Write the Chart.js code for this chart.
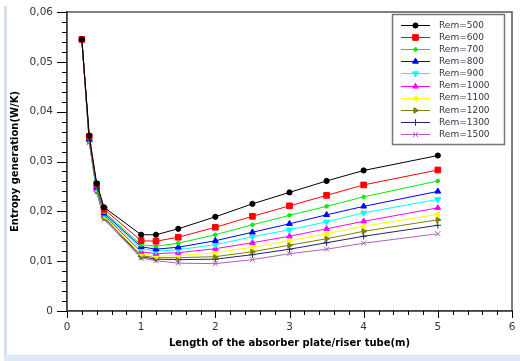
<!DOCTYPE html>
<html>
<head>
<meta charset="utf-8">
<script src="https://cdn.jsdelivr.net/npm/chart.js"></script>
<style>
  html, body { margin: 0; padding: 0; background: #fff; }
  #wrap { position: relative; width: 520px; height: 361px; }
  #edgeL { position: absolute; left: 4px; top: 6px; width: 3px; height: 355px; background: #d3e0f1; }
  #edgeB { position: absolute; left: 4px; top: 355px; width: 516px; height: 6px; background: #dfe8f5; }
  canvas { position: absolute; left: 0; top: 0; }
</style>
</head>
<body>
<div id="wrap">
  <div id="edgeL"></div>
  <div id="edgeB"></div>
  <canvas id="chart" width="520" height="361"></canvas>
</div>
<script>
// longueur (m)
const lengths = [0.2, 0.3, 0.4, 0.5, 1, 1.2, 1.5, 2, 2.5, 3, 3.5, 4, 5];

// génération d'entropie (W/K) pour chaque Rem
const rem500  = [0.0545, 0.0352, 0.0256, 0.0208, 0.0153, 0.0153, 0.0165, 0.0189, 0.0215, 0.0238, 0.0261, 0.0282, 0.0312];
const rem600  = [0.0545, 0.0350, 0.0254, 0.0204, 0.0141, 0.0140, 0.0148, 0.0168, 0.0190, 0.0211, 0.0232, 0.0253, 0.0283];
const rem700  = [0.0545, 0.0347, 0.0250, 0.0199, 0.0133, 0.0130, 0.0136, 0.0153, 0.0173, 0.0192, 0.0210, 0.0229, 0.0261];
const rem800  = [0.0545, 0.0345, 0.0248, 0.0196, 0.0129, 0.0124, 0.0128, 0.0141, 0.0158, 0.0175, 0.0193, 0.0210, 0.0240];
const rem900  = [0.0545, 0.0344, 0.0246, 0.0194, 0.0125, 0.0120, 0.0123, 0.0133, 0.0149, 0.0163, 0.0179, 0.0197, 0.0224];
const rem1000 = [0.0545, 0.0343, 0.0245, 0.0192, 0.0119, 0.0115, 0.0117, 0.0125, 0.0137, 0.0150, 0.0165, 0.0180, 0.0207];
const rem1100 = [0.0545, 0.0342, 0.0243, 0.0190, 0.0115, 0.0110, 0.0111, 0.0117, 0.0128, 0.0141, 0.0155, 0.0170, 0.0194];
const rem1200 = [0.0545, 0.0341, 0.0242, 0.0188, 0.0111, 0.0107, 0.0107, 0.0109, 0.0119, 0.0132, 0.0145, 0.0160, 0.0183];
const rem1300 = [0.0545, 0.0340, 0.0241, 0.0187, 0.0109, 0.0104, 0.0103, 0.0104, 0.0113, 0.0124, 0.0137, 0.0150, 0.0172];
const rem1500 = [0.0545, 0.0338, 0.0239, 0.0184, 0.0106, 0.0101, 0.0096, 0.0095, 0.0103, 0.0115, 0.0124, 0.0136, 0.0155];

const seriesNames = ['Rem=500', 'Rem=600', 'Rem=700', 'Rem=800', 'Rem=900', 'Rem=1000', 'Rem=1100', 'Rem=1200', 'Rem=1300', 'Rem=1500'];
const seriesValues = [rem500, rem600, rem700, rem800, rem900, rem1000, rem1100, rem1200, rem1300, rem1500];
const seriesColors = ['#000000', '#ff0000', '#00ee00', '#0000ff', '#00ffff', '#ff00ff', '#ffff00', '#808000', '#22227a', '#b060b8'];

const markers = [
  { style: 'circle', radius: 2.6, rotation: 0 },
  { style: 'rect', radius: 4, rotation: 0 },
  { style: 'circle', radius: 1.8, rotation: 0 },
  { style: 'triangle', radius: 3.4, rotation: 0 },
  { style: 'triangle', radius: 3.4, rotation: 180 },
  { style: 'triangle', radius: 3.2, rotation: 0 },
  { style: 'triangle', radius: 3.2, rotation: 270 },
  { style: 'triangle', radius: 3.2, rotation: 90 },
  { style: 'cross', radius: 3.2, rotation: 0 },
  { style: 'crossRot', radius: 3.6, rotation: 0 }
];

const FONT = "'DejaVu Sans', Verdana, sans-serif";
const TICK_COLOR = '#333348';

const datasets = seriesNames.map((name, i) => ({
  label: name,
  data: lengths.map((x, j) => ({ x: x, y: seriesValues[i][j] })),
  borderColor: seriesColors[i],
  backgroundColor: seriesColors[i],
  borderWidth: 1,
  pointStyle: markers[i].style,
  pointRadius: markers[i].radius,
  pointRotation: markers[i].rotation,
  pointBorderWidth: 1,
  tension: 0,
  fill: false
}));

const isWhole = (v, step) => Math.abs(v / step - Math.round(v / step)) < 1e-6;

// cadre du graphe + graduations majeures / mineures
const frameTicks = {
  id: 'frameTicks',
  afterDraw(chart) {
    const { ctx, chartArea: a, scales } = chart;
    ctx.save();
    ctx.strokeStyle = '#555';
    ctx.lineWidth = 1.5;
    ctx.strokeRect(a.left, a.top, a.right - a.left, a.bottom - a.top);
    ctx.strokeStyle = '#000';
    ctx.lineWidth = 1;
    ctx.beginPath();
    scales.y.ticks.forEach(t => {
      const y = Math.round(scales.y.getPixelForValue(t.value)) + 0.5;
      const len = isWhole(t.value, 0.01) ? 10 : 5;
      ctx.moveTo(a.left - len, y);
      ctx.lineTo(a.left, y);
    });
    scales.x.ticks.forEach(t => {
      const x = Math.round(scales.x.getPixelForValue(t.value)) + 0.5;
      const len = isWhole(t.value, 1) ? 7 : 4;
      ctx.moveTo(x, a.bottom);
      ctx.lineTo(x, a.bottom + len);
    });
    ctx.stroke();
    ctx.restore();
  }
};

// légende encadrée avec trait + marqueur
const boxLegend = {
  id: 'boxLegend',
  afterDraw(chart) {
    const { ctx, chartArea: a } = chart;
    const w = 112, h = 130;
    const bx = a.right - 8 - w, by = a.top + 2;
    ctx.save();
    ctx.fillStyle = '#fff';
    ctx.fillRect(bx, by, w, h);
    ctx.strokeStyle = '#777';
    ctx.lineWidth = 1.5;
    ctx.strokeRect(bx + 0.5, by + 0.5, w, h);
    ctx.font = '9px ' + FONT;
    ctx.textBaseline = 'middle';
    chart.data.datasets.forEach((ds, i) => {
      const y = by + 11 + i * 12.1;
      ctx.strokeStyle = ds.borderColor;
      ctx.lineWidth = 1;
      ctx.beginPath();
      ctx.moveTo(bx + 9, Math.round(y) + 0.5);
      ctx.lineTo(bx + 38, Math.round(y) + 0.5);
      ctx.stroke();
      ctx.fillStyle = ds.backgroundColor;
      Chart.helpers.drawPoint(ctx, {
        pointStyle: ds.pointStyle,
        radius: ds.pointRadius,
        rotation: ds.pointRotation,
        borderWidth: 1
      }, bx + 23.5, Math.round(y) + 0.5);
      ctx.fillStyle = TICK_COLOR;
      ctx.fillText(ds.label, bx + 47, y + 0.5);
    });
    ctx.restore();
  }
};

new Chart(document.getElementById('chart'), {
  type: 'line',
  data: { datasets: datasets },
  plugins: [frameTicks, boxLegend],
  options: {
    responsive: false,
    animation: false,
    layout: { padding: { top: 12, right: 8, left: 0, bottom: 0 } },
    plugins: { legend: { display: false }, tooltip: { enabled: false } },
    scales: {
      x: {
        type: 'linear',
        min: 0,
        max: 6,
        ticks: {
          stepSize: 0.2,
          autoSkip: false,
          maxRotation: 0,
          padding: 3,
          color: TICK_COLOR,
          font: { family: FONT, size: 10.5 },
          callback: v => isWhole(v, 1) ? String(Math.round(v)) : ''
        },
        grid: { drawOnChartArea: false, tickLength: 7, tickColor: 'rgba(0,0,0,0)' },
        border: { color: '#000', width: 1.5 },
        title: {
          display: true,
          text: 'Length of the absorber plate/riser tube(m)',
          color: '#000',
          font: { family: FONT, size: 10, weight: 'bold' },
          padding: { top: 0, bottom: 12 }
        },
        afterFit(scale) { scale.height = 50; }
      },
      y: {
        min: 0,
        max: 0.06,
        ticks: {
          stepSize: 0.002,
          autoSkip: false,
          padding: 4,
          color: TICK_COLOR,
          font: { family: FONT, size: 10.5 },
          callback: v => isWhole(v, 0.01) ? (Math.round(v * 100) / 100).toString().replace('.', ',') : ''
        },
        grid: { drawOnChartArea: false, tickLength: 10, tickColor: 'rgba(0,0,0,0)' },
        border: { color: '#000', width: 1.5 },
        title: {
          display: true,
          text: 'Entropy generation(W/K)',
          color: '#000',
          font: { family: FONT, size: 10, weight: 'bold' },
          padding: { top: 9, bottom: 0 }
        },
        afterFit(scale) { scale.width = 67; }
      }
    }
  }
});
</script>
</body>
</html>
